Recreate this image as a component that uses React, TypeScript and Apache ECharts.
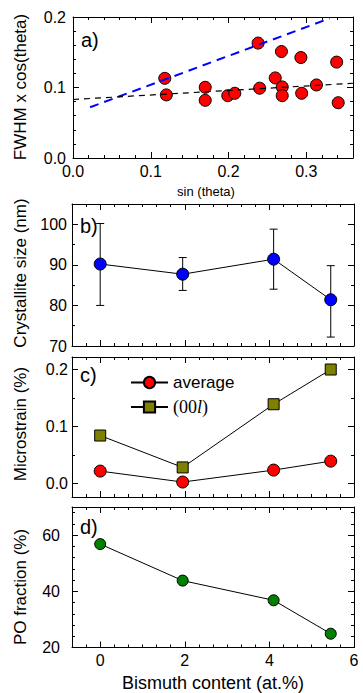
import React, { useEffect, useRef } from "react";
import * as echarts from "echarts";

// ---- Panel a: Williamson-Hall data ----
const sinTheta = [0.118, 0.12, 0.17, 0.17, 0.199, 0.208, 0.238, 0.24, 0.26, 0.268, 0.269, 0.269, 0.293, 0.294, 0.313, 0.339, 0.341];
const fwhmCos = [0.113, 0.0895, 0.1003, 0.0818, 0.0884, 0.0918, 0.163, 0.099, 0.1136, 0.151, 0.1008, 0.0884, 0.1425, 0.0918, 0.1036, 0.136, 0.0784];
const blueFitX = [0.022, 0.33];
const blueFitY = [0.072, 0.198];
const blackFitX = [0, 0.36];
const blackFitY = [0.083, 0.106];

// ---- Panels b-d: vs bismuth content ----
const bismuth = [0, 1.95, 4.1, 5.45];
const crystSize = [90.2, 87.7, 91.4, 81.4];
const crystLow = [80, 83.7, 84, 72.2];
const crystHigh = [100.2, 91.8, 98.8, 89.8];
const strainAvg = [0.0215, 0.0023, 0.0233, 0.039];
const strain00l = [0.084, 0.028, 0.139, 0.2];
const poFraction = [56.8, 43.8, 36.8, 24.9];

// ---- Tick labels ----
const aXTicks = [0, 0.1, 0.2, 0.3];
const aYTicks = [0, 0.1, 0.2];
const bXTicks = [0, 2, 4, 6];
const bYTicks = [70, 80, 90, 100];
const cYTicks = [0, 0.1, 0.2];
const dYTicks = [20, 40, 60];

const FONT = "Liberation Sans";

function steps(min: number, max: number, step: number, majors: number[]) {
  const out: number[] = [];
  const n = Math.round((max - min) / step);
  for (let i = 0; i <= n + 1; i++) {
    const v = +(Math.ceil(min / step - 1e-9) * step + i * step).toFixed(6);
    if (v < min - 1e-9 || v > max + 1e-9) continue;
    if (majors.some((m) => Math.abs(m - v) < 1e-6)) continue;
    out.push(v);
  }
  return out;
}

function axes(
  grid: number,
  dim: "x" | "y",
  min: number,
  max: number,
  major: number[],
  minorStep: number,
  showLabels: boolean,
  fmt: (v: number) => string,
  margin: number
) {
  const minor = steps(min, max, minorStep, major);
  const pos = dim === "x" ? ["bottom", "top"] : ["left", "right"];
  const base = (position: string, isMajor: boolean, labels: boolean) => ({
    type: "value",
    gridIndex: grid,
    position,
    min,
    max,
    axisLine: { show: isMajor, onZero: false, lineStyle: { color: "#000", width: 1 } },
    axisTick: {
      show: true,
      inside: true,
      length: isMajor ? 6 : 3,
      customValues: isMajor ? major : minor,
      lineStyle: { color: "#000", width: 1 },
    },
    axisLabel: {
      show: labels,
      customValues: major,
      formatter: fmt,
      margin,
      color: "#000",
      fontSize: 16,
      fontFamily: FONT,
    },
    splitLine: { show: false },
  });
  return [
    base(pos[0], true, showLabels),
    base(pos[1], true, false),
    base(pos[0], false, false),
    base(pos[1], false, false),
  ];
}

const f1 = (v: number) => v.toFixed(1);
const f0 = (v: number) => String(Math.round(v));

function text(x: number, y: number, t: string, size: number, rot = 0, align = "center") {
  return {
    type: "text",
    x,
    y,
    rotation: rot,
    z: 50,
    style: {
      text: t,
      fontSize: size,
      fontFamily: FONT,
      fill: "#000",
      align,
      verticalAlign: "middle",
      textAlign: align,
      textVerticalAlign: "middle",
    },
  };
}

export default function App() {
  const ref = useRef<HTMLDivElement>(null);
  useEffect(() => {
    if (!ref.current) return;
    const chart = echarts.init(ref.current, undefined, { renderer: "svg" });
    const XMIN = -2 / 3;
    const xAxis = [
      ...axes(0, "x", 0, 0.36, aXTicks, 0.02, true, f1, 5),
      ...axes(1, "x", XMIN, 6, bXTicks, 1 / 3, false, f0, 5),
      ...axes(2, "x", XMIN, 6, bXTicks, 1 / 3, false, f0, 5),
      ...axes(3, "x", XMIN, 6, bXTicks, 1 / 3, true, f0, 5),
    ];
    const yAxis = [
      ...axes(0, "y", 0, 0.2, aYTicks, 0.02, true, f1, 7),
      ...axes(1, "y", 70, 105, bYTicks, 5, true, f0, 5),
      ...axes(2, "y", -0.024, 0.222, cYTicks, 0.05, true, f1, 4),
      ...axes(3, "y", 20, 70, dYTicks, 4, true, f0, 12),
    ];
    const zip = (a: number[], b: number[]) => a.map((v, i) => [v, b[i]]);
    const option: any = {
      animation: false,
      textStyle: { fontFamily: FONT },
      grid: [
        { left: 73, top: 17, width: 280, height: 141 },
        { left: 72, top: 204, width: 282, height: 142 },
        { left: 72, top: 357, width: 282, height: 140 },
        { left: 72, top: 507, width: 282, height: 140.5 },
      ],
      xAxis,
      yAxis,
      legend: {
        data: ["average", "(00l)"],
        orient: "vertical",
        left: 130,
        top: 374,
        padding: 0,
        itemWidth: 37,
        itemHeight: 14,
        itemGap: 7,
        textStyle: {
          fontSize: 17,
          fontFamily: FONT,
          color: "#000",
          rich: {
            n: { fontFamily: "Liberation Serif", fontSize: 18, color: "#000" },
            i: { fontFamily: "Liberation Serif", fontStyle: "italic", fontSize: 18, color: "#000" },
          },
        },
        formatter: (name: string) => (name === "(00l)" ? "{n|(00}{i|l}{n|)}" : name),
      },
      series: [
        {
          name: "a-points",
          type: "scatter",
          xAxisIndex: 0,
          yAxisIndex: 0,
          data: zip(sinTheta, fwhmCos),
          symbol: "circle",
          symbolSize: 12,
          itemStyle: { color: "#ff0000", borderColor: "#000", borderWidth: 1, opacity: 1 },
          z: 2,
        },
        {
          name: "fit-blue",
          type: "line",
          xAxisIndex: 0,
          yAxisIndex: 0,
          data: zip(blueFitX, blueFitY),
          symbol: "none",
          lineStyle: { color: "#0000ff", width: 2, type: [9, 6] },
          z: 3,
        },
        {
          name: "fit-black",
          type: "line",
          xAxisIndex: 0,
          yAxisIndex: 0,
          data: zip(blackFitX, blackFitY),
          symbol: "none",
          lineStyle: { color: "#000", width: 1.2, type: [6, 5] },
          z: 3,
        },
        {
          name: "size-err",
          type: "custom",
          xAxisIndex: 4,
          yAxisIndex: 4,
          data: bismuth.map((x, i) => [x, crystLow[i], crystHigh[i]]),
          encode: { x: 0, y: [1, 2] },
          z: 2,
          renderItem: (params: any, api: any) => {
            const x = api.value(0);
            const top = api.coord([x, api.value(2)]);
            const bot = api.coord([x, api.value(1)]);
            const w = 4;
            const st = { stroke: "#000", lineWidth: 1 };
            return {
              type: "group",
              children: [
                { type: "line", shape: { x1: top[0], y1: top[1], x2: bot[0], y2: bot[1] }, style: st },
                { type: "line", shape: { x1: top[0] - w, y1: top[1], x2: top[0] + w, y2: top[1] }, style: st },
                { type: "line", shape: { x1: bot[0] - w, y1: bot[1], x2: bot[0] + w, y2: bot[1] }, style: st },
              ],
            };
          },
        },
        {
          name: "size",
          type: "line",
          xAxisIndex: 4,
          yAxisIndex: 4,
          data: zip(bismuth, crystSize),
          symbol: "circle",
          symbolSize: 12,
          itemStyle: { color: "#0000ff", borderColor: "#000", borderWidth: 1 },
          lineStyle: { color: "#000", width: 1 },
          z: 3,
        },
        {
          name: "(00l)",
          type: "line",
          xAxisIndex: 8,
          yAxisIndex: 8,
          data: zip(bismuth, strain00l),
          symbol: "rect",
          symbolSize: 11,
          itemStyle: { color: "#808000", borderColor: "#000", borderWidth: 1 },
          lineStyle: { color: "#000", width: 1 },
          z: 3,
        },
        {
          name: "average",
          type: "line",
          xAxisIndex: 8,
          yAxisIndex: 8,
          data: zip(bismuth, strainAvg),
          symbol: "circle",
          symbolSize: 12,
          itemStyle: { color: "#ff0000", borderColor: "#000", borderWidth: 1 },
          lineStyle: { color: "#000", width: 1 },
          z: 3,
        },
        {
          name: "po",
          type: "line",
          xAxisIndex: 12,
          yAxisIndex: 12,
          data: zip(bismuth, poFraction),
          symbol: "circle",
          symbolSize: 11,
          itemStyle: { color: "#007f00", borderColor: "#000", borderWidth: 1 },
          lineStyle: { color: "#000", width: 1 },
          z: 3,
        },
      ],
      graphic: [
        text(20, 87, "FWHM x cos(theta)", 17, Math.PI / 2),
        text(20, 273, "Crystallite size (nm)", 17, Math.PI / 2),
        text(20, 424, "Microstrain (%)", 17, Math.PI / 2),
        text(20, 587, "PO fraction (%)", 17, Math.PI / 2),
        text(206, 191, "sin (theta)", 13),
        text(213, 683, "Bismuth content (at.%)", 18),
        text(81, 40, "a)", 20, 0, "left"),
        text(80, 226, "b)", 20, 0, "left"),
        text(80, 375, "c)", 20, 0, "left"),
        text(80, 527, "d)", 20, 0, "left"),
      ],
    };
    chart.setOption(option);
    return () => chart.dispose();
  }, []);
  return (
    <div
      ref={ref}
      style={{ position: "absolute", left: 0, top: 0, width: 363, height: 693, background: "#fff" }}
    />
  );
}
